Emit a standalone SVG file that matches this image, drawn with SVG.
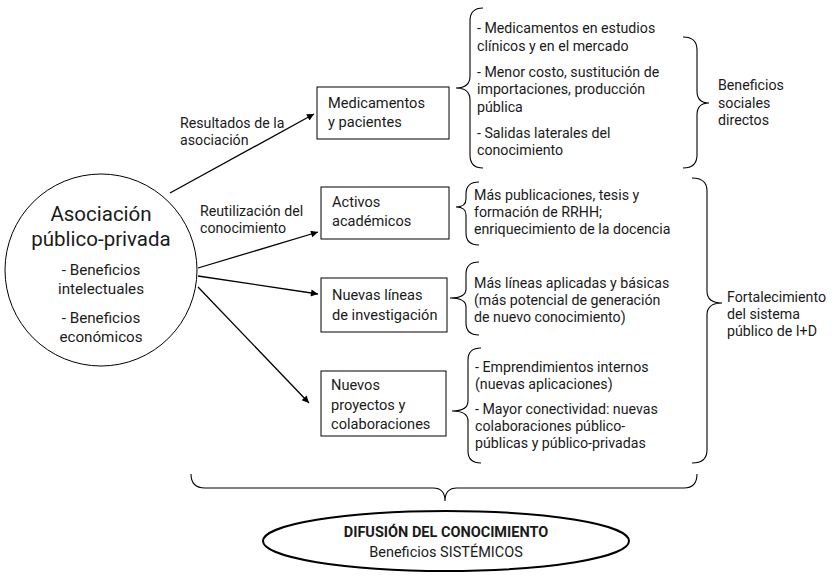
<svg xmlns="http://www.w3.org/2000/svg" width="834" height="577" viewBox="0 0 834 577">
<defs>
<marker id="ah" viewBox="0 0 10 10" refX="10" refY="5" markerWidth="9" markerHeight="7" markerUnits="userSpaceOnUse" orient="auto">
<path d="M0,0 L10,5 L0,10 z" fill="#000"/>
</marker>
<style>
text{font-family:Roboto,"Open Sans",sans-serif;fill:#1a1a1a}
.t{font-size:14.2px}
.b{font-size:14.6px}
.c{font-size:20.5px}
.cs{font-size:15.2px}
.box{fill:#fff;stroke:#000;stroke-width:1}
.br{fill:none;stroke:#000;stroke-width:1.1}
.ln{fill:none;stroke:#000;stroke-width:1.3;marker-end:url(#ah)}
</style>
</defs>
<rect width="834" height="577" fill="#fff"/>

<g id="connectors">
<line class="ln" x1="170" y1="193" x2="314" y2="114"/>
<line class="ln" x1="198" y1="268" x2="318" y2="232"/>
<line class="ln" x1="198" y1="276" x2="318" y2="294"/>
<line class="ln" x1="198" y1="287" x2="309" y2="403"/>
<text class="t" x="180" y="128">Resultados de la</text>
<text class="t" x="180" y="145">asociación</text>
<text class="t" x="200" y="216">Reutilización del</text>
<text class="t" x="200" y="233">conocimiento</text>
</g>

<g id="asociacion">
<circle cx="101" cy="270" r="96" fill="#fff" stroke="#000" stroke-width="1"/>
<text class="c" x="101" y="221" text-anchor="middle">Asociación</text>
<text class="c" x="101" y="246" text-anchor="middle">público-privada</text>
<text class="cs" x="101" y="275" text-anchor="middle">- Beneficios</text>
<text class="cs" x="101" y="294" text-anchor="middle">intelectuales</text>
<text class="cs" x="101" y="323" text-anchor="middle">- Beneficios</text>
<text class="cs" x="101" y="342" text-anchor="middle">económicos</text>
</g>

<g id="medicamentos">
<rect class="box" x="317" y="87" width="132" height="52"/>
<text class="b" x="328" y="108">Medicamentos</text>
<text class="b" x="328" y="127">y pacientes</text>
</g>

<g id="activos">
<rect class="box" x="321" y="187" width="128" height="52"/>
<text class="b" x="332" y="207">Activos</text>
<text class="b" x="332" y="226">académicos</text>
</g>

<g id="lineas">
<rect class="box" x="321" y="278" width="126" height="54"/>
<text class="b" x="332" y="300">Nuevas líneas</text>
<text class="b" x="332" y="320">de investigación</text>
</g>

<g id="proyectos">
<rect class="box" x="321" y="371" width="125" height="65"/>
<text class="b" x="331" y="390">Nuevos</text>
<text class="b" x="331" y="410">proyectos y</text>
<text class="b" x="331" y="429">colaboraciones</text>
</g>

<g id="items-medicamentos">
<path class="br" d="M483,8 Q470,8 470,21 L470,76 Q470,88 456,88 Q470,88 470,100 L470,155 Q470,168 483,168"/>
<text class="t" x="477" y="33">- Medicamentos en estudios</text>
<text class="t" x="477" y="51">clínicos y en el mercado</text>
<text class="t" x="477" y="77">- Menor costo, sustitución de</text>
<text class="t" x="477" y="94">importaciones, producción</text>
<text class="t" x="477" y="112">pública</text>
<text class="t" x="477" y="138">- Salidas laterales del</text>
<text class="t" x="477" y="155">conocimiento</text>
</g>

<g id="sociales">
<path class="br" d="M683,37 Q697,37 697,50 L697,91 Q697,103 709,103 Q697,103 697,115 L697,155 Q697,168 683,168"/>
<text class="t" x="718" y="90">Beneficios</text>
<text class="t" x="718" y="108">sociales</text>
<text class="t" x="718" y="125">directos</text>
</g>

<g id="items-activos">
<path class="br" d="M479,182 Q466,182 466,194 L466,199 Q466,207 456,207 Q466,207 466,215 L466,233 Q466,245 479,245"/>
<text class="t" x="474" y="200">Más publicaciones, tesis y</text>
<text class="t" x="474" y="217">formación de RRHH;</text>
<text class="t" x="474" y="234">enriquecimiento de la docencia</text>
</g>

<g id="items-lineas">
<path class="br" d="M479,262 Q466,262 466,274 L466,289 Q466,298 450,298 Q466,298 466,307 L466,323 Q466,335 479,335"/>
<text class="t" x="474" y="288">Más líneas aplicadas y básicas</text>
<text class="t" x="474" y="305">(más potencial de generación</text>
<text class="t" x="474" y="322">de nuevo conocimiento)</text>
</g>

<g id="items-proyectos">
<path class="br" d="M481,348 Q468,348 468,360 L468,401 Q468,411 452,411 Q468,411 468,421 L468,451 Q468,463 481,463"/>
<text class="t" x="475" y="372">- Emprendimientos internos</text>
<text class="t" x="475" y="389">(nuevas aplicaciones)</text>
<text class="t" x="475" y="414">- Mayor conectividad: nuevas</text>
<text class="t" x="475" y="431">colaboraciones público-</text>
<text class="t" x="475" y="448">públicas y público-privadas</text>
</g>

<g id="fortalecimiento">
<path class="br" d="M692,178 Q707,178 707,191 L707,291 Q707,303 722,303 Q707,303 707,315 L707,450 Q707,463 692,463"/>
<text class="t" x="727" y="302">Fortalecimiento</text>
<text class="t" x="727" y="319">del sistema</text>
<text class="t" x="727" y="336">público de I+D</text>
</g>

<g id="bottom-brace">
<path class="br" d="M191,474 Q191,488 205,488 L433,488 Q445,488 445,501 Q445,488 457,488 L684,488 Q697,488 697,474"/>
</g>

<g id="difusion">
<ellipse cx="446" cy="541" rx="183" ry="30" fill="#fff" stroke="#000" stroke-width="2"/>
<text x="446" y="537" text-anchor="middle" style="font-size:14.5px;font-weight:bold">DIFUSIÓN DEL CONOCIMIENTO</text>
<text x="446" y="557" text-anchor="middle" style="font-size:14.5px">Beneficios SISTÉMICOS</text>
</g>
</svg>
